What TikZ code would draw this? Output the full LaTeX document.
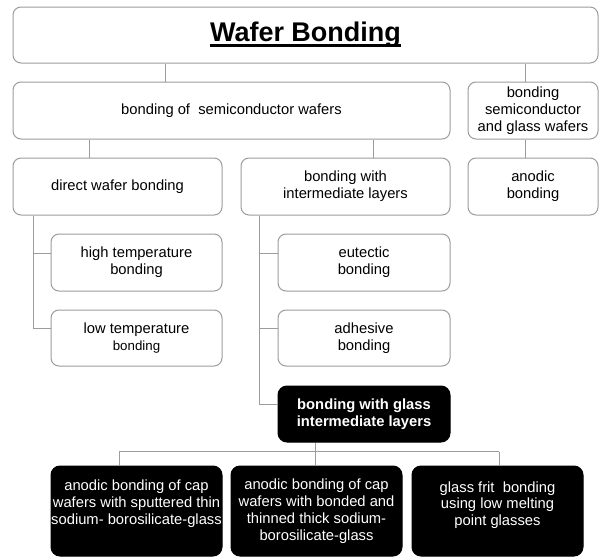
\documentclass[tikz,border=0pt]{standalone}
\usepackage{fontspec}
\setmainfont{Liberation Sans}
\newsavebox\ttlbox
\newcommand\thickul[1]{\sbox\ttlbox{#1}\rlap{\usebox\ttlbox}\rule[-5.3pt]{\wd\ttlbox}{3.2pt}}
\definecolor{lineg}{HTML}{9C9C9C}
\tikzset{
  wbox/.style={draw=lineg, line width=1pt, rounded corners=8pt, fill=white, inner sep=0pt,
    align=center, font=\fontsize{14.75}{16.8}\selectfont},
  bbox/.style={draw=black, fill=black, line width=1pt, rounded corners=9pt, inner sep=0pt,
    text=white, align=center, font=\fontsize{14.75}{16.8}\selectfont},
  conn/.style={draw=lineg, line width=1pt}
}
\begin{document}
\begin{tikzpicture}[x=1pt,y=-1pt]
\useasboundingbox (0,0) rectangle (600,557);
% boxes
\node[wbox, minimum width=585pt, minimum height=56pt] (top) at (305.5,35)
  {\fontsize{27}{30}\selectfont\bfseries\thickul{Wafer Bonding}};
\node[wbox, minimum width=437pt, minimum height=57pt] (bsw) at (231.5,110.5)
  {bonding of~ semiconductor wafers};
\node[wbox, minimum width=130pt, minimum height=57pt] (bsg) at (533,110.5)
  {bonding\\semiconductor\\and glass wafers};
\node[wbox, minimum width=209pt, minimum height=57pt] (dwb) at (117.5,186.5)
  {direct wafer bonding};
\node[wbox, minimum width=209pt, minimum height=57pt] (bil) at (345.5,186.5)
  {bonding with\\intermediate layers};
\node[wbox, minimum width=130pt, minimum height=57pt] (anb) at (533,186.5)
  {anodic\\bonding};
\node[wbox, minimum width=171pt, minimum height=57pt] (htb) at (136.5,262.5)
  {high temperature\\bonding};
\node[wbox, minimum width=171pt, minimum height=56pt] (ltb) at (136.5,338)
  {low temperature\\{\fontsize{13.3}{15}\selectfont bonding}};
\node[wbox, minimum width=172pt, minimum height=57pt] (eut) at (364,262.5)
  {eutectic\\bonding};
\node[wbox, minimum width=172pt, minimum height=56pt] (adh) at (364,338)
  {adhesive\\bonding};
\node[bbox, minimum width=172pt, minimum height=56pt, font=\fontsize{14.75}{17.5}\selectfont\bfseries] (bgl) at (364,414)
  {bonding with glass\\intermediate layers};
\node[bbox, minimum width=171pt, minimum height=90pt,
  label={[text=white, align=center, font=\fontsize{14.75}{16.7}\selectfont, yshift=7.5pt]center:anodic bonding of cap\\wafers with sputtered thin\\sodium- borosilicate-glass}]
  (b1) at (136.5,511) {};
\node[bbox, minimum width=171pt, minimum height=90pt] (b2) at (316.5,511)
  {anodic bonding of cap\\wafers with bonded and\\thinned thick sodium-\\borosilicate-glass};
\node[bbox, minimum width=171pt, minimum height=90pt,
  label={[text=white, align=center, font=\fontsize{14.75}{16.7}\selectfont, yshift=6pt]center:glass frit~ bonding\\using low melting\\point glasses}]
  (b3) at (497.5,511) {};
% junction coordinates
\coordinate (j1) at ([xshift=-66.5pt]bsw.north);
\coordinate (j2) at ([xshift=-8pt]bsg.north);
\coordinate (j3) at ([xshift=-28.5pt]dwb.north);
\coordinate (j4) at ([xshift=27.5pt]bil.north);
\coordinate (j5) at ([xshift=-8pt]anb.north);
\coordinate (k1) at ([xshift=-84.5pt]dwb.south);
\coordinate (k2) at ([xshift=-86.5pt]bil.south);
\coordinate (m1) at ([xshift=-49pt]bgl.south);
\coordinate (hl) at ([xshift=-17.5pt,yshift=14pt]b1.north);
\coordinate (hr) at ([xshift=1.5pt,yshift=14pt]b3.north);
% connectors
\draw[conn] (j1) -- (j1 |- top.south);
\draw[conn] (j2) -- (j2 |- top.south);
\draw[conn] (j3) -- (j3 |- bsw.south);
\draw[conn] (j4) -- (j4 |- bsw.south);
\draw[conn] (j5) -- (j5 |- bsg.south);
\draw[conn] (k1) |- ([yshift=9.5pt]htb.west);
\draw[conn] (k1) |- ([yshift=10pt]ltb.west);
\draw[conn] (k2) |- ([yshift=9.5pt]eut.west);
\draw[conn] (k2) |- ([yshift=10pt]adh.west);
\draw[conn] (k2) |- ([yshift=10pt]bgl.west);
\draw[conn] (m1) -- (m1 |- b2.north);
\draw[conn] (hl) -- (hr);
\draw[conn] (hl) -- ([xshift=-17.5pt]b1.north);
\draw[conn] (hr) -- ([xshift=1.5pt]b3.north);
\end{tikzpicture}
\end{document}
